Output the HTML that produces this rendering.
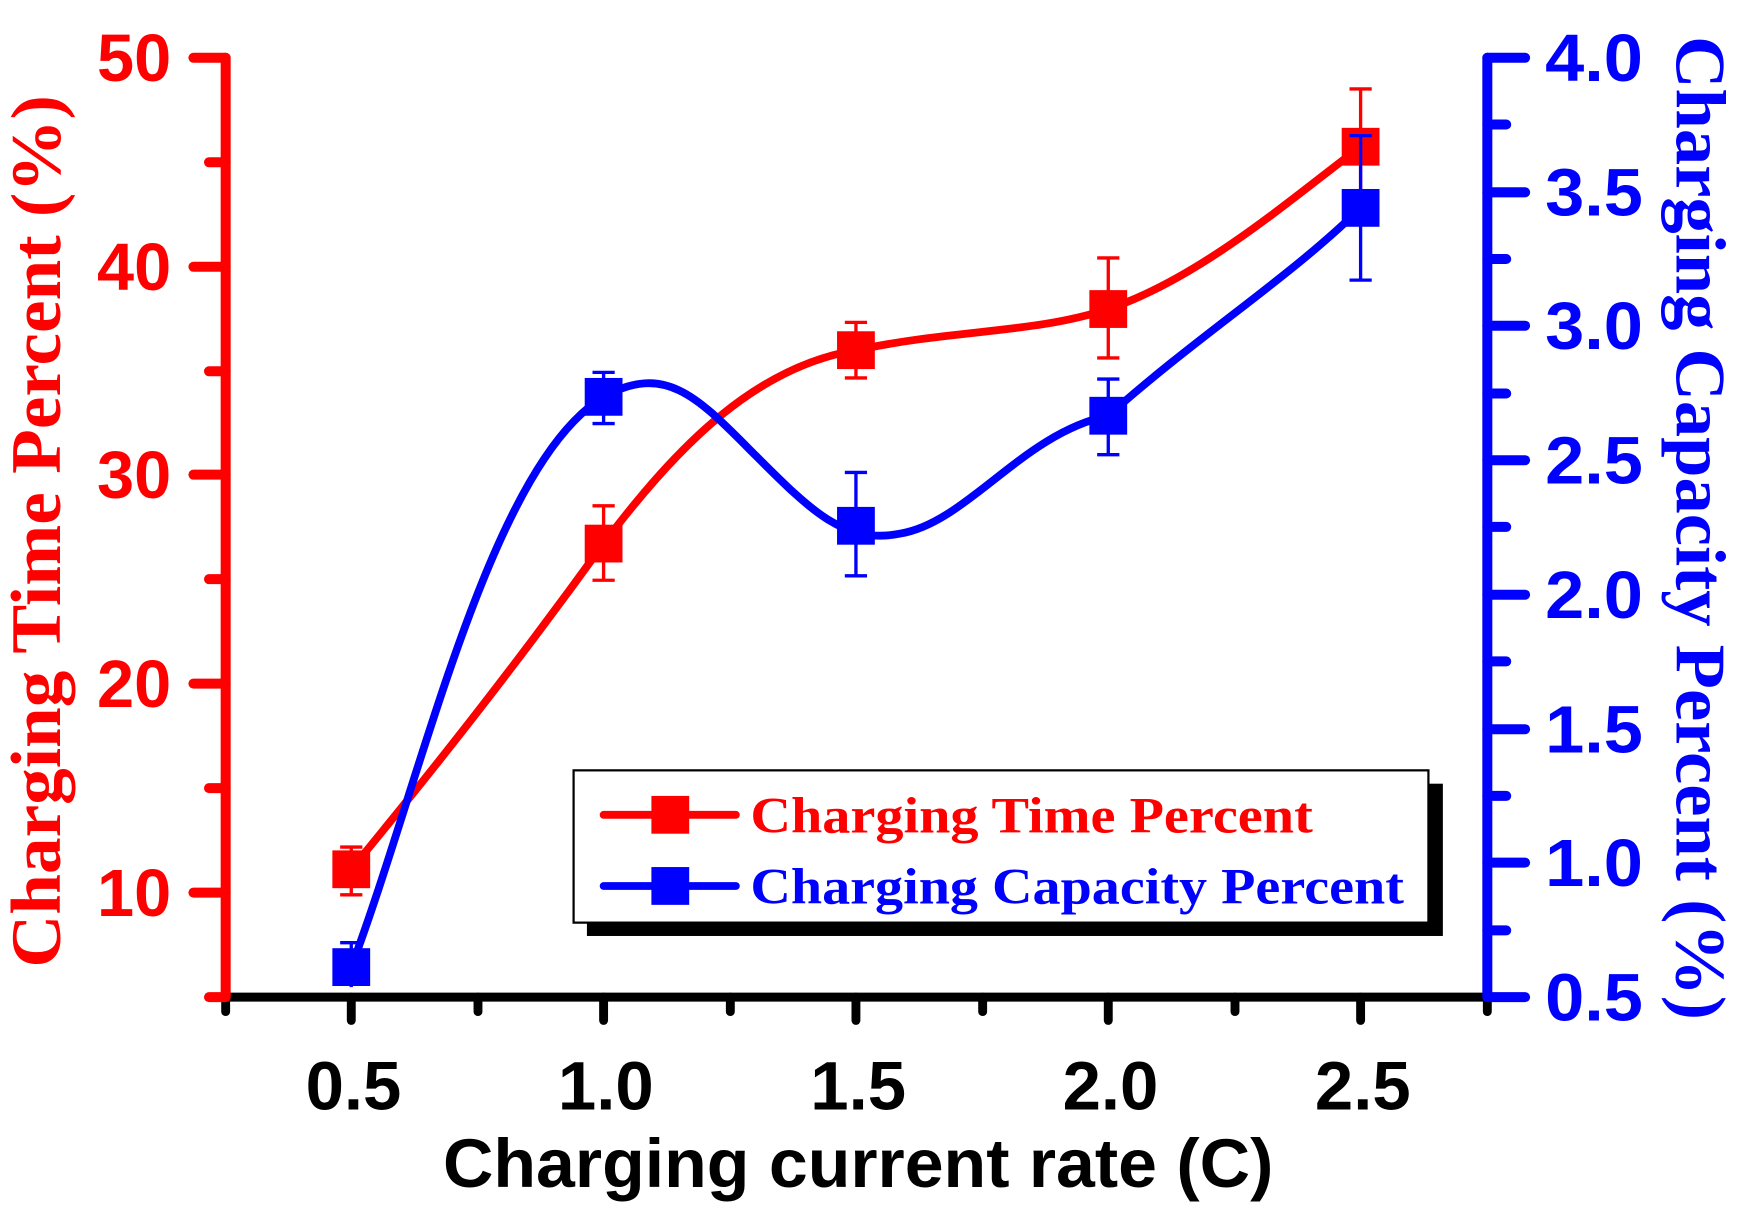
<!DOCTYPE html>
<html><head><meta charset="utf-8"><style>
html,body{margin:0;padding:0;background:#fff;}
svg{display:block;}
</style></head><body>
<svg width="1743" height="1220" viewBox="0 0 1568 1097.5" xmlns="http://www.w3.org/2000/svg">
<rect width="1568" height="1097.5" fill="#fff"/>
<!-- X axis -->
<g stroke="#000" stroke-width="8" stroke-linecap="round">
<line x1="203" y1="897" x2="1338" y2="897"/>
<line x1="203" y1="897" x2="203" y2="910"/>
<line x1="316" y1="897" x2="316" y2="918"/>
<line x1="430" y1="897" x2="430" y2="910"/>
<line x1="543" y1="897" x2="543" y2="918"/>
<line x1="657" y1="897" x2="657" y2="910"/>
<line x1="770" y1="897" x2="770" y2="918"/>
<line x1="884" y1="897" x2="884" y2="910"/>
<line x1="997" y1="897" x2="997" y2="918"/>
<line x1="1111" y1="897" x2="1111" y2="910"/>
<line x1="1224" y1="897" x2="1224" y2="918"/>
<line x1="1338" y1="897" x2="1338" y2="910"/>
</g>
<!-- Left axis -->
<g stroke="#f00" stroke-width="9" stroke-linecap="round">
<line x1="203" y1="52" x2="203" y2="897"/>
<line x1="174" y1="52" x2="203" y2="52"/>
<line x1="188" y1="146" x2="203" y2="146"/>
<line x1="174" y1="240" x2="203" y2="240"/>
<line x1="188" y1="334" x2="203" y2="334"/>
<line x1="174" y1="427" x2="203" y2="427"/>
<line x1="188" y1="521" x2="203" y2="521"/>
<line x1="174" y1="615" x2="203" y2="615"/>
<line x1="188" y1="709" x2="203" y2="709"/>
<line x1="174" y1="803" x2="203" y2="803"/>
<line x1="188" y1="897" x2="203" y2="897"/>
</g>
<!-- Right axis -->
<g stroke="#00f" stroke-width="9" stroke-linecap="round">
<line x1="1338" y1="52" x2="1338" y2="897"/>
<line x1="1338" y1="52" x2="1372" y2="52"/>
<line x1="1338" y1="112" x2="1355" y2="112"/>
<line x1="1338" y1="173" x2="1372" y2="173"/>
<line x1="1338" y1="233" x2="1355" y2="233"/>
<line x1="1338" y1="293" x2="1372" y2="293"/>
<line x1="1338" y1="354" x2="1355" y2="354"/>
<line x1="1338" y1="414" x2="1372" y2="414"/>
<line x1="1338" y1="474" x2="1355" y2="474"/>
<line x1="1338" y1="535" x2="1372" y2="535"/>
<line x1="1338" y1="595" x2="1355" y2="595"/>
<line x1="1338" y1="656" x2="1372" y2="656"/>
<line x1="1338" y1="716" x2="1355" y2="716"/>
<line x1="1338" y1="776" x2="1372" y2="776"/>
<line x1="1338" y1="837" x2="1355" y2="837"/>
<line x1="1338" y1="897" x2="1372" y2="897"/>
</g>
<!-- Left labels -->
<g font-family="Liberation Sans, sans-serif" font-weight="bold" font-size="60" fill="#f00" text-anchor="end">
<text x="154" y="73">50</text>
<text x="154" y="261">40</text>
<text x="154" y="448">30</text>
<text x="154" y="636">20</text>
<text x="154" y="824">10</text>
</g>
<g font-family="Liberation Sans, sans-serif" font-weight="bold" font-size="60" fill="#00f">
<text x="1390" y="73" textLength="88" lengthAdjust="spacingAndGlyphs">4.0</text>
<text x="1390" y="194" textLength="88" lengthAdjust="spacingAndGlyphs">3.5</text>
<text x="1390" y="314" textLength="88" lengthAdjust="spacingAndGlyphs">3.0</text>
<text x="1390" y="435" textLength="88" lengthAdjust="spacingAndGlyphs">2.5</text>
<text x="1390" y="556" textLength="88" lengthAdjust="spacingAndGlyphs">2.0</text>
<text x="1390" y="677" textLength="88" lengthAdjust="spacingAndGlyphs">1.5</text>
<text x="1390" y="797" textLength="88" lengthAdjust="spacingAndGlyphs">1.0</text>
<text x="1390" y="918" textLength="88" lengthAdjust="spacingAndGlyphs">0.5</text>
</g>
<g font-family="Liberation Sans, sans-serif" font-weight="bold" font-size="62" fill="#000" text-anchor="middle">
<text x="318" y="998">0.5</text>
<text x="545" y="998">1.0</text>
<text x="772" y="998">1.5</text>
<text x="999" y="998">2.0</text>
<text x="1226" y="998">2.5</text>
</g>
<text x="772" y="1068" font-family="Liberation Sans, sans-serif" font-weight="bold" font-size="62" text-anchor="middle" fill="#000" textLength="747" lengthAdjust="spacingAndGlyphs">Charging current rate (C)</text>
<text transform="translate(54,478) rotate(-90)" font-family="Liberation Serif, serif" font-weight="bold" font-size="64" text-anchor="middle" fill="#f00" textLength="785" lengthAdjust="spacingAndGlyphs">Charging Time Percent (%)</text>
<text transform="translate(1508,475) rotate(90)" font-family="Liberation Serif, serif" font-weight="bold" font-size="64" text-anchor="middle" fill="#00f" textLength="885" lengthAdjust="spacingAndGlyphs">Charging Capacity Percent (%)</text>
<!-- Red series -->
<path d="M316,782 C400,680 470,590 543,489 C610,400 680,330 770,315 C860,296 930,300 997,278 C1080,250 1160,180 1224,132" fill="none" stroke="#f00" stroke-width="7"/>
<g stroke="#f00" stroke-width="3">
<line x1="316" y1="762" x2="316" y2="805"/><line x1="306" y1="762" x2="326" y2="762"/><line x1="306" y1="805" x2="326" y2="805"/>
<line x1="543" y1="455" x2="543" y2="522"/><line x1="533" y1="455" x2="553" y2="455"/><line x1="533" y1="522" x2="553" y2="522"/>
<line x1="770" y1="290" x2="770" y2="340"/><line x1="760" y1="290" x2="780" y2="290"/><line x1="760" y1="340" x2="780" y2="340"/>
<line x1="997" y1="232" x2="997" y2="322"/><line x1="987" y1="232" x2="1007" y2="232"/><line x1="987" y1="322" x2="1007" y2="322"/>
<line x1="1224" y1="80" x2="1224" y2="180"/><line x1="1214" y1="80" x2="1234" y2="80"/><line x1="1214" y1="180" x2="1234" y2="180"/>
</g>
<g fill="#f00">
<rect x="299" y="765" width="34" height="34"/>
<rect x="526" y="472" width="34" height="34"/>
<rect x="753" y="298" width="34" height="34"/>
<rect x="980" y="261" width="34" height="34"/>
<rect x="1207" y="115" width="34" height="34"/>
</g>
<!-- Blue series -->
<path d="M316,870 C380,700 440,420 543,357 C600,325 630,360 680,410 C730,460 760,490 810,480 C870,470 920,390 997,374 C1080,300 1160,250 1224,187" fill="none" stroke="#00f" stroke-width="7"/>
<g stroke="#00f" stroke-width="3">
<line x1="316" y1="848" x2="316" y2="888"/><line x1="306" y1="848" x2="326" y2="848"/>
<line x1="543" y1="335" x2="543" y2="381"/><line x1="533" y1="335" x2="553" y2="335"/><line x1="533" y1="381" x2="553" y2="381"/>
<line x1="770" y1="425" x2="770" y2="518"/><line x1="760" y1="425" x2="780" y2="425"/><line x1="760" y1="518" x2="780" y2="518"/>
<line x1="997" y1="341" x2="997" y2="409"/><line x1="987" y1="341" x2="1007" y2="341"/><line x1="987" y1="409" x2="1007" y2="409"/>
<line x1="1224" y1="122" x2="1224" y2="252"/><line x1="1214" y1="122" x2="1234" y2="122"/><line x1="1214" y1="252" x2="1234" y2="252"/>
</g>
<g fill="#00f">
<rect x="299" y="853" width="34" height="34"/>
<rect x="526" y="340" width="34" height="34"/>
<rect x="753" y="456" width="34" height="34"/>
<rect x="980" y="357" width="34" height="34"/>
<rect x="1207" y="170" width="34" height="34"/>
</g>
<!-- Legend -->
<rect x="528" y="705" width="770" height="137" fill="#000"/>
<rect x="516" y="693" width="769" height="137" fill="#fff" stroke="#000" stroke-width="2"/>
<line x1="543" y1="733" x2="662" y2="733" stroke="#f00" stroke-width="7" stroke-linecap="round"/>
<rect x="586" y="716" width="34" height="34" fill="#f00"/>
<line x1="543" y1="797" x2="662" y2="797" stroke="#00f" stroke-width="7" stroke-linecap="round"/>
<rect x="586" y="780" width="34" height="34" fill="#00f"/>
<text x="675" y="749" font-family="Liberation Serif, serif" font-weight="bold" font-size="46" fill="#f00" textLength="506" lengthAdjust="spacingAndGlyphs">Charging Time Percent</text>
<text x="675" y="813" font-family="Liberation Serif, serif" font-weight="bold" font-size="46" fill="#00f" textLength="588" lengthAdjust="spacingAndGlyphs">Charging Capacity Percent</text>
</svg>
</body></html>
